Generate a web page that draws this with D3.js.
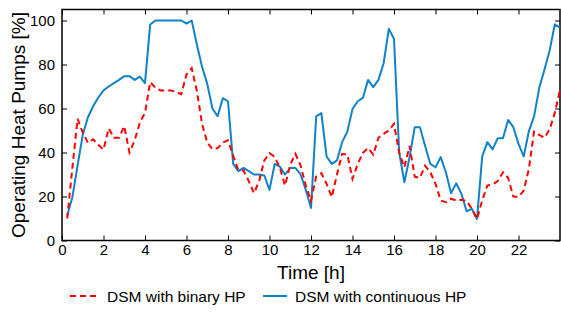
<!DOCTYPE html>
<html>
<head>
<meta charset="utf-8">
<script src="https://cdn.jsdelivr.net/npm/d3@7"></script>
<style>
  body { margin: 0; background: #fff; }
  svg { display: block; font-family: "Liberation Sans", Arial, sans-serif; }
</style>
</head>
<body>
<figure id="chart" style="margin:0"></figure>
<script>
// quarter-hour steps, 0.25 .. 24
const hours = d3.range(1, 97).map(i => i / 4);

// share of heat pumps running [%], one row per hour
const binaryHP = [
  10, 33, 55.3, 49,
  44.4, 46, 43.5, 41.3,
  51, 46.7, 46.7, 52,
  40, 45.5, 53.5, 58,
  72, 69.5, 68.2, 68.2,
  68.2, 67.5, 66.5, 75.5,
  78.3, 68, 53, 44.5,
  41.5, 42, 44.5, 45.5,
  38.5, 32, 31.8, 27,
  21.5, 27, 36.4, 39.7,
  38, 33, 25, 34.5,
  39.4, 34, 25, 18,
  29.1, 30.6, 25.8, 19.7,
  30, 39.4, 39, 28,
  34.8, 39.8, 42.1, 39,
  46.7, 48.5, 50, 53,
  40, 33.3, 43, 29,
  28.5, 34, 31, 25.8,
  18.2, 17.4, 19, 18.2,
  18.5, 18, 14.4, 9.8,
  18.2, 25, 25.5, 27,
  31, 28.5, 20, 19.8,
  22.7, 32.5, 49.5, 48,
  46.7, 50.5, 58, 68.5
];

const continuousHP = [
  11.4, 19.7, 34, 48,
  56, 61, 65, 68.2,
  70, 71.5, 73, 74.7,
  74.7, 73, 74.5, 71.5,
  98.2, 100, 100, 100,
  100, 100, 100, 98.6,
  100, 89, 79, 71.2,
  60, 56.5, 64.7, 63.3,
  34.8, 31.5, 33, 31.5,
  30, 30, 29.5, 23,
  34.8, 33.6, 30, 33,
  33, 30, 23, 14.8,
  56.4, 57.9, 38.2, 34.8,
  36.4, 44.7, 49.5, 59.8,
  63.3, 64.8, 73, 69.7,
  73, 80.6, 96.2, 91.7,
  40, 26.5, 37.9, 51.5,
  51.5, 43, 34.8, 33.3,
  37.9, 31, 21.5, 26,
  21.2, 13.3, 14.4, 9.8,
  38.2, 44.7, 41.4, 46.5,
  46.5, 54.8, 51.5, 43.9,
  38.2, 49.7, 56.4, 69.4,
  77.6, 86.4, 98.2, 96.7
];

const xTicks = [0, 2, 4, 6, 8, 10, 12, 14, 16, 18, 20, 22];
const yTicks = [0, 20, 40, 60, 80, 100];

const seriesNames = ["DSM with binary HP", "DSM with continuous HP"];

const width = 561, height = 321;
const plotLeft = 62, plotRight = 560, plotTop = 9.5, plotBottom = 240.5;

const svg = d3.select("figure#chart")
  .append("svg")
  .attr("width", width)
  .attr("height", height);

svg.append("rect")
  .attr("width", width).attr("height", height)
  .attr("fill", "#fff");

const x = d3.scaleLinear().domain([0, 24]).range([plotLeft, plotRight]);
const y = d3.scaleLinear().domain([0, 105]).range([plotBottom, plotTop]);

// Axes (ticks pointing inwards, matlab style)
const xAxis = svg.append("g")
  .attr("transform", "translate(0," + plotBottom + ")")
  .call(d3.axisBottom(x).tickValues(xTicks).tickSize(-5).tickPadding(4).tickFormat(d3.format("d")));
const xTop = svg.append("g")
  .attr("transform", "translate(0," + plotTop + ")")
  .call(d3.axisTop(x).tickValues(xTicks).tickSize(-5).tickFormat(""));
const yAxis = svg.append("g")
  .attr("transform", "translate(" + plotLeft + ",0)")
  .call(d3.axisLeft(y).tickValues(yTicks).tickSize(-5).tickPadding(7));
const yRight = svg.append("g")
  .attr("transform", "translate(" + plotRight + ",0)")
  .call(d3.axisRight(y).tickValues(yTicks).tickSize(-5).tickFormat(""));

[xAxis, xTop, yAxis, yRight].forEach(g => {
  g.select(".domain").remove();
  g.selectAll("line").attr("stroke", "#000").attr("stroke-width", 1);
  g.selectAll("text")
    .attr("fill", "#000")
    .style("font-size", "15px")
    .style("font-family", "'Liberation Sans', Arial, sans-serif");
});

// Frame
svg.append("rect")
  .attr("x", plotLeft).attr("y", plotTop)
  .attr("width", plotRight - plotLeft).attr("height", plotBottom - plotTop)
  .attr("fill", "none")
  .attr("stroke", "#000")
  .attr("stroke-width", 1.5);

// Lines
const line = d3.line()
  .x((d, i) => x(hours[i]))
  .y(d => y(d));

svg.append("path")
  .datum(continuousHP)
  .attr("d", line)
  .attr("fill", "none")
  .attr("stroke", "#1182c8")
  .attr("stroke-width", 2)
  .attr("stroke-linejoin", "round");

svg.append("path")
  .datum(binaryHP)
  .attr("d", line)
  .attr("fill", "none")
  .attr("stroke", "#ff0000")
  .attr("stroke-width", 2)
  .attr("stroke-dasharray", "6,4");

// Axis titles
svg.append("text")
  .attr("x", (plotLeft + plotRight) / 2)
  .attr("y", 279)
  .attr("text-anchor", "middle")
  .style("font-size", "19px")
  .text("Time [h]");

svg.append("text")
  .attr("transform", "translate(25," + ((plotTop + plotBottom) / 2) + ") rotate(-90)")
  .attr("text-anchor", "middle")
  .style("font-size", "19px")
  .text("Operating Heat Pumps [%]");

// Legend
const legend = svg.append("g").attr("transform", "translate(0,296)");
legend.append("line")
  .attr("x1", 70).attr("x2", 99).attr("y1", 0).attr("y2", 0)
  .attr("stroke", "#ff0000").attr("stroke-width", 2)
  .attr("stroke-dasharray", "6,4");
legend.append("text")
  .attr("x", 107).attr("y", 5.5)
  .style("font-size", "15.5px")
  .text(seriesNames[0]);
legend.append("line")
  .attr("x1", 263).attr("x2", 287).attr("y1", 0).attr("y2", 0)
  .attr("stroke", "#1182c8").attr("stroke-width", 2);
legend.append("text")
  .attr("x", 295).attr("y", 5.5)
  .style("font-size", "15.5px")
  .text(seriesNames[1]);
</script>
</body>
</html>
